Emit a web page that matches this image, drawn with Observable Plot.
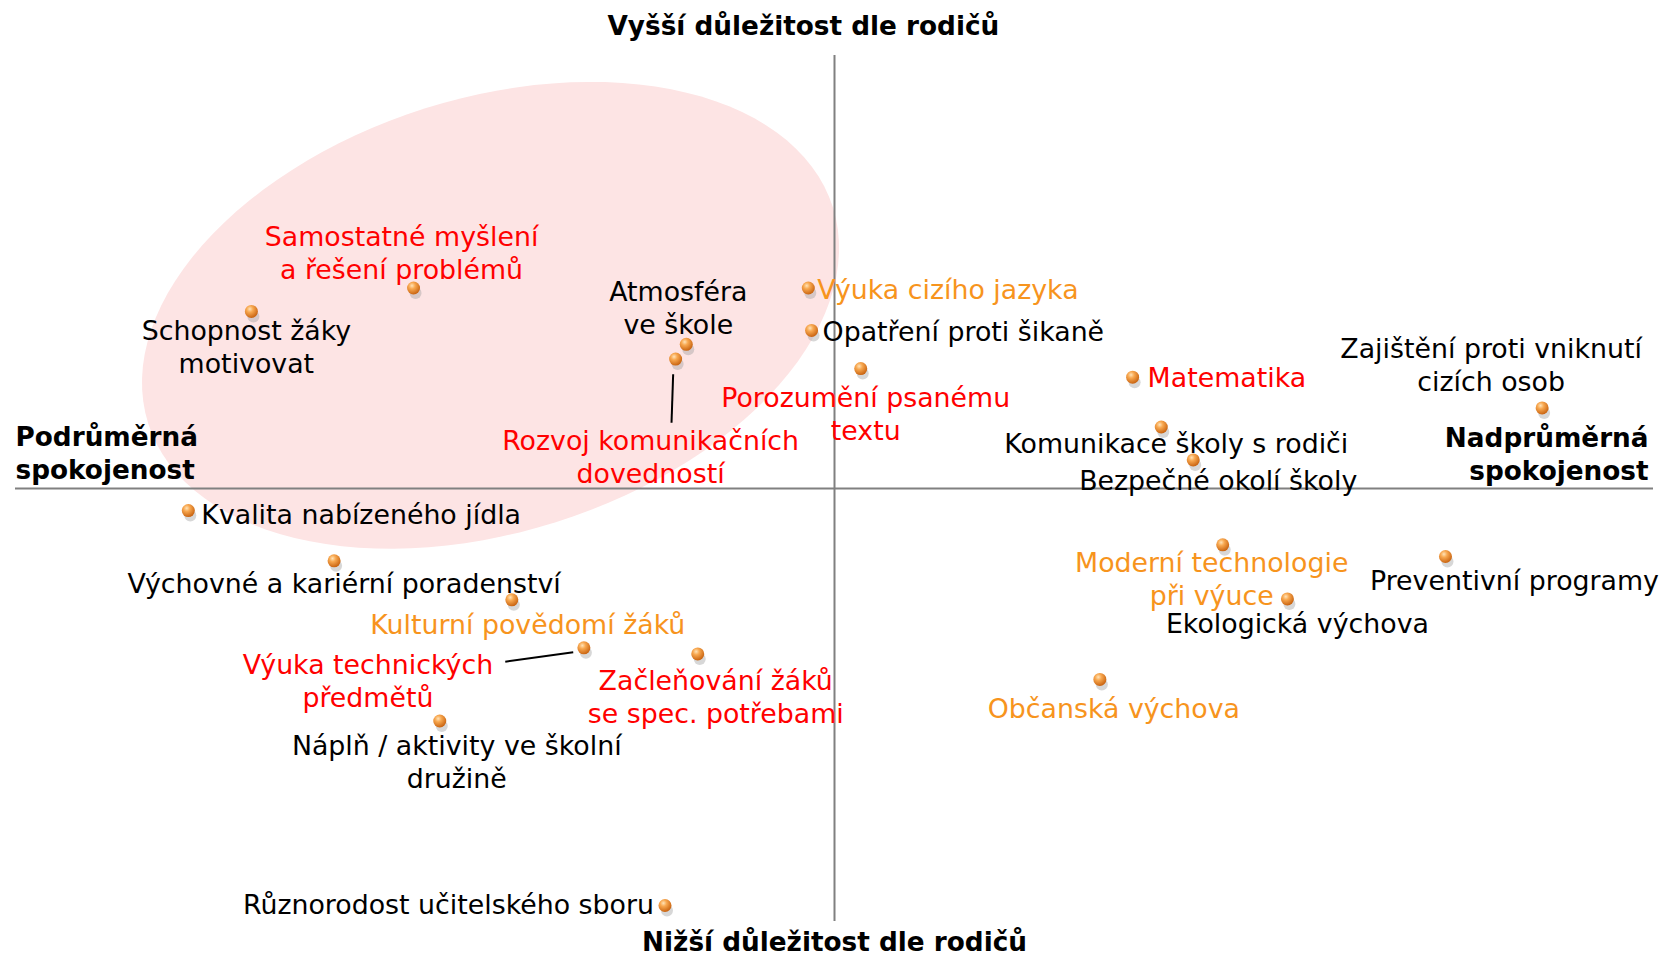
<!DOCTYPE html>
<html>
<head>
<meta charset="utf-8">
<script src="https://cdn.jsdelivr.net/npm/d3@7"></script>
<script src="https://cdn.jsdelivr.net/npm/@observablehq/plot@0.6"></script>
<style>
  html, body { margin: 0; padding: 0; background: #fff; }
  #chart svg { display: block; }
</style>
</head>
<body>
<div id="chart"></div>
<script>
// ---- Data ----
const items = [
  "Samostatné myšlení\na řešení problémů",
  "Schopnost žáky\nmotivovat",
  "Atmosféra\nve škole",
  "Rozvoj komunikačních\ndovedností",
  "Výuka cizího jazyka",
  "Opatření proti šikaně",
  "Porozumění psanému\ntextu",
  "Matematika",
  "Zajištění proti vniknutí\ncizích osob",
  "Komunikace školy s rodiči",
  "Bezpečné okolí školy",
  "Kvalita nabízeného jídla",
  "Výchovné a kariérní poradenství",
  "Kulturní povědomí žáků",
  "Výuka technických\npředmětů",
  "Začleňování žáků\nse spec. potřebami",
  "Náplň / aktivity ve školní\ndružině",
  "Různorodost učitelského sboru",
  "Moderní technologie\npři výuce",
  "Ekologická výchova",
  "Preventivní programy",
  "Občanská výchova"
];
// satisfaction (x, relative to average) and importance (y, relative to average)
const satisfaction = [-51.4, -71.2, -18.1, -19.4, -3.2, -2.8, 3.2, 36.4, 86.4, 39.9, 43.8, -78.9, -61.1, -39.4, -30.6, -16.7, -48.2, -20.7, 47.4, 55.3, 74.6, 32.4];
const importance   = [46.3, 40.9, 33.3, 29.9, 46.3, 36.5, 27.7, 25.7, 18.6, 14.2, 6.6, -5.1, -16.7, -25.7, -36.8, -38.2, -53.7, -96.3, -13.0, -25.5, -15.7, -44.1];
// highlight category: "key" (red), "watch" (orange), "other" (black)
const category = ["key","other","other","key","watch","other","key","key","other","other","other","other","other","watch","key","key","other","other","watch","other","other","watch"];

// axis annotation texts
const axisTitles = {
  top: "Vyšší důležitost dle rodičů",
  bottom: "Nižší důležitost dle rodičů",
  left: "Podrůměrná\nspokojenost",
  right: "Nadprůměrná\nspokojenost"
};

// ---- Layout (label placement relative to each point, in px) ----
const labelDx = [-12, -5, -8, -25, 9, 11, 5, 15, -51, 15, 25, 13, 10, 16, -216, 18, 17, -11, -11, 10, 69, 14];
const labelDy = [-36, 35, -37, 97, 0, 0, 44, -1, -44, 15, 20, 3, 22, 24, 32, 42, 40, -2, 33, 24, 23, 28];
const labelAnchor = ["middle","middle","middle","middle","start","start","middle","start","middle","middle","middle","start","middle","middle","middle","middle","middle","end","middle","middle","middle","middle"];
// leader lines (data units)
const leaders = [
  {x1: -19.7, y1: 26.4, x2: -19.9, y2: 15.2},
  {x1: -40.2, y1: -40.0, x2: -31.9, y2: -37.8}
];
// highlighted region (ellipse) — centre in data units, radii in px, rotation in degrees
const region = {cx: -42.0, cy: 40.0, rx: 359, ry: 217, angle: 17.5};

const colorOf = {key: "#ff0000", watch: "#f7941d", other: "#000000"};
const FS = 26.8, FSB = 26.3, LH = 1.23;

const W = 1664, H = 955;
const xRange = [15, 1653], yRange = [921, 55];
const xDomain = [-100, 100], yDomain = [-100, 100];
const pxPerX = (xRange[1] - xRange[0]) / (xDomain[1] - xDomain[0]);
const pxPerY = (yRange[0] - yRange[1]) / (yDomain[1] - yDomain[0]);

const points = items.map((name, i) => ({
  name, x: satisfaction[i], y: importance[i], cat: category[i],
  dx: labelDx[i], dy: labelDy[i], anchor: labelAnchor[i]
}));

const ellipse = d3.range(0, 361, 3).map(t => {
  const a = t * Math.PI / 180, r = region.angle * Math.PI / 180;
  const ex = region.rx * Math.cos(a), ey = region.ry * Math.sin(a);
  const px = ex * Math.cos(r) - ey * Math.sin(r);
  const py = ex * Math.sin(r) + ey * Math.cos(r); // up-positive
  return {x: region.cx + px / pxPerX, y: region.cy + py / pxPerY};
});

const plot = Plot.plot({
  width: W, height: H,
  margin: 0,
  x: {domain: xDomain, range: xRange, axis: null},
  y: {domain: yDomain, range: yRange, axis: null},
  style: {fontFamily: "'DejaVu Sans', Verdana, sans-serif", background: "#fff", overflow: "visible"},
  marks: [
    Plot.line(ellipse, {x: "x", y: "y", fill: "#fde4e4", stroke: "none", curve: "linear-closed"}),
    Plot.ruleX([0], {y1: yDomain[0], y2: yDomain[1], stroke: "#808080", strokeWidth: 2}),
    Plot.ruleY([0], {x1: xDomain[0], x2: xDomain[1], stroke: "#808080", strokeWidth: 2}),
    Plot.link(leaders, {x1: "x1", y1: "y1", x2: "x2", y2: "y2", stroke: "#000", strokeWidth: 2}),
    // shadows under the balls
    Plot.dot(points, {x: "x", y: "y", r: 6, dx: 2, dy: 5, fill: "#9a9a9a", fillOpacity: 0.4, stroke: "none"}),
    Plot.dot(points, {x: "x", y: "y", r: 6.5, fill: "url(#ball)", stroke: "none"}),
    ...points.map(d => Plot.text([d], {
      x: "x", y: "y", text: "name", fill: colorOf[d.cat],
      dx: d.dx, dy: d.dy, textAnchor: d.anchor, lineAnchor: "middle", lineHeight: LH, fontSize: FS
    })),
    Plot.text([axisTitles.top], {x: -3.8, y: 106.6, text: d => d, fontSize: FSB, fontWeight: "bold", fill: "#000", lineAnchor: "middle"}),
    Plot.text([axisTitles.bottom], {x: 0, y: -104.9, text: d => d, fontSize: FSB, fontWeight: "bold", fill: "#000", lineAnchor: "middle"}),
    Plot.text([axisTitles.left], {x: -100, y: 8.4, text: d => d, fontSize: FSB, fontWeight: "bold", fill: "#000", textAnchor: "start", lineAnchor: "middle", lineHeight: 1.25}),
    Plot.text([axisTitles.right], {x: 99.4, y: 8.3, text: d => d, fontSize: FSB, fontWeight: "bold", fill: "#000", textAnchor: "end", lineAnchor: "middle", lineHeight: 1.25})
  ]
});

d3.select(plot).insert("defs", ":first-child").html(`
  <radialGradient id="ball" cx="38%" cy="32%" r="70%">
    <stop offset="0%" stop-color="#ffe3b8"/>
    <stop offset="35%" stop-color="#f8a850"/>
    <stop offset="100%" stop-color="#c8620f"/>
  </radialGradient>`);

document.getElementById("chart").appendChild(plot);
</script>
</body>
</html>
